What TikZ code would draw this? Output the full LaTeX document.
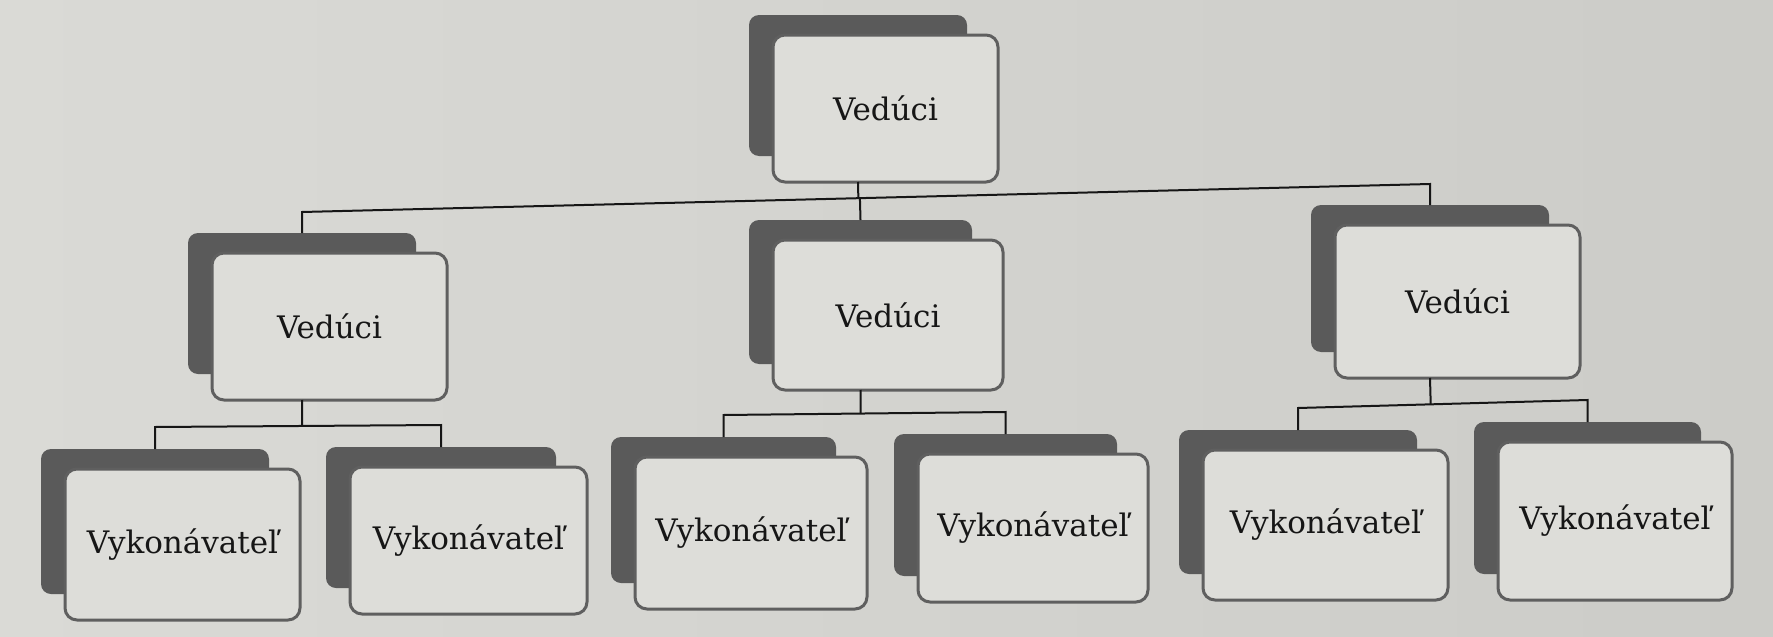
\documentclass[tikz,border=0pt]{standalone}
\usepackage{fontspec}
\setmainfont{DejaVu Serif}
\usetikzlibrary{calc}
\definecolor{paperL}{RGB}{218,218,214}
\definecolor{paperR}{RGB}{204,204,200}
\definecolor{boxfill}{RGB}{221,221,217}
\definecolor{shadowgray}{RGB}{90,90,90}
\definecolor{edgegray}{RGB}{95,95,95}
\definecolor{inkblack}{RGB}{22,22,22}
\tikzset{
  backbox/.style={fill=shadowgray, rounded corners=10pt},
  frontbox/.style={draw=edgegray, line width=3pt, fill=boxfill, rounded corners=12pt,
    inner sep=0pt, text=inkblack, font=\fontsize{31}{36}\selectfont},
  link/.style={draw=inkblack, line width=2pt},
}
% name, front x1, y1, x2, y2 (pixels, y downwards), text
\newcommand\orgunit[6]{%
  \fill[backbox] ({#2-24},{#3-20}) rectangle ({#4-31},{#5-26});
  \node[frontbox, minimum width={#4-#2}, minimum height={#5-#3}] (#1) at ({(#2+#4)/2},{(#3+#5)/2}) {#6};
  \coordinate (#1-top) at ({(#2+#4-55)/2},{#3-20});
  \coordinate (#1-bot) at ({(#2+#4-55)/2},{#5});
}
\begin{document}
\begin{tikzpicture}[x=1pt,y=-1pt]
\useasboundingbox (0,0) rectangle (1773,637);
\shade[left color=paperL, right color=paperR] (0,0) rectangle (1773,637);

\orgunit{T}{773}{35}{998}{182}{Vedúci}
\orgunit{ML}{212}{253}{447}{400}{Vedúci}
\orgunit{MC}{773}{240}{1003}{390}{Vedúci}
\orgunit{MR}{1335}{225}{1580}{378}{Vedúci}
\orgunit{BA}{65}{469}{300}{620}{Vykonávateľ}
\orgunit{BB}{350}{467}{587}{614}{Vykonávateľ}
\orgunit{BC}{635}{457}{867}{609}{Vykonávateľ}
\orgunit{BD}{918}{454}{1148}{602}{Vykonávateľ}
\orgunit{BE}{1203}{450}{1448}{600}{Vykonávateľ}
\orgunit{BF}{1498}{442}{1732}{600}{Vykonávateľ}

% level 1 -> level 2
\coordinate (bus1L) at ([yshift=21pt]ML-top);
\coordinate (bus1R) at ([yshift=21pt]MR-top);
\draw[link] (ML-top) -- (bus1L) -- (bus1R) -- (MR-top);
\draw[link] (MC-top) -- ($(bus1L)!(MC-top)!(bus1R)$);
\draw[link] (T-bot) -- ($(bus1L)!(T-bot)!(bus1R)$);

% left group
\coordinate (bus2L) at ([yshift=22pt]BA-top);
\coordinate (bus2R) at ([yshift=22pt]BB-top);
\draw[link] (BA-top) -- (bus2L) -- (bus2R) -- (BB-top);
\draw[link] (ML-bot) -- ($(bus2L)!(ML-bot)!(bus2R)$);

% middle group
\coordinate (bus3L) at ([yshift=22pt]BC-top);
\coordinate (bus3R) at ([yshift=22pt]BD-top);
\draw[link] (BC-top) -- (bus3L) -- (bus3R) -- (BD-top);
\draw[link] (MC-bot) -- ($(bus3L)!(MC-bot)!(bus3R)$);

% right group
\coordinate (bus4L) at ([yshift=22pt]BE-top);
\coordinate (bus4R) at ([yshift=22pt]BF-top);
\draw[link] (BE-top) -- (bus4L) -- (bus4R) -- (BF-top);
\draw[link] (MR-bot) -- ($(bus4L)!(MR-bot)!(bus4R)$);
\end{tikzpicture}
\end{document}
